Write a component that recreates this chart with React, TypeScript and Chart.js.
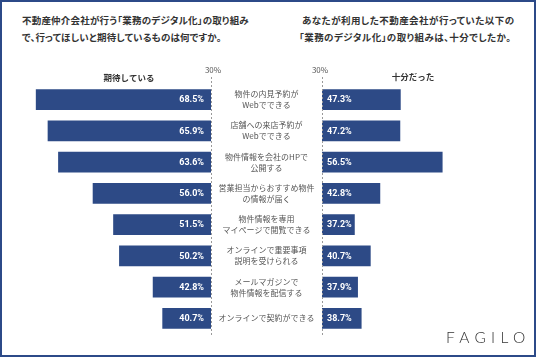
import React, { useEffect, useRef } from "react";
import { Chart, registerables } from "chart.js";

Chart.register(...registerables);

const categories: string[][] = [
  ["物件の内見予約が", "Webでできる"],
  ["店舗への来店予約が", "Webでできる"],
  ["物件情報を会社のHPで", "公開する"],
  ["営業担当からおすすめ物件", "の情報が届く"],
  ["物件情報を専用", "マイページで閲覧できる"],
  ["オンラインで重要事項", "説明を受けられる"],
  ["メールマガジンで", "物件情報を配信する"],
  ["オンラインで契約ができる"],
];
const expectedValues = [68.5, 65.9, 63.6, 56.0, 51.5, 50.2, 42.8, 40.7];
const sufficientValues = [47.3, 47.2, 56.5, 42.8, 37.2, 40.7, 37.9, 38.7];
const leftHeader = "期待している";
const rightHeader = "十分だった";
const axisMin = 30;
const axisMax = 70;
const leftTitle = ["不動産仲介会社が行う「業務のデジタル化」の取り組み", "で、行ってほしいと期待しているものは何ですか。"];
const rightTitle = ["あなたが利用した不動産会社が行っていた以下の", "「業務のデジタル化」の取り組みは、十分でしたか。"];

const BAR = "#2d4a86";
const JP = '"Noto Sans CJK JP", "Noto Sans", sans-serif';
const W = 536;
const H = 357;

function makeChart(canvas: HTMLCanvasElement, side: "left" | "right") {
  const values = side === "left" ? expectedValues : sufficientValues;
  const padding =
    side === "left"
      ? { left: 29, right: W - 211, top: 84, bottom: H - 334 }
      : { left: 322, right: W - 504, top: 84, bottom: H - 334 };

  const overlay = {
    id: "overlay-" + side,
    afterDatasetsDraw(chart: any) {
      const ctx = chart.ctx as CanvasRenderingContext2D;
      const xs = chart.scales.x;
      const ys = chart.scales.y;
      const meta = chart.getDatasetMeta(0);
      const base = xs.getPixelForValue(axisMin);
      ctx.save();
      const lx = Math.round(base) + 0.5;
      ctx.strokeStyle = "#9a9a9a";
      ctx.lineWidth = 1;
      ctx.setLineDash([2, 2]);
      ctx.beginPath();
      ctx.moveTo(lx, 77);
      ctx.lineTo(lx, 337);
      ctx.stroke();
      ctx.setLineDash([]);
      ctx.fillStyle = "#555";
      ctx.font = `8px ${JP}`;
      ctx.textAlign = "center";
      ctx.textBaseline = "middle";
      ctx.fillText(axisMin + "%", base + (side === "left" ? 2 : -2), 70);
      ctx.fillStyle = "#333";
      ctx.font = `bold 8.5px ${JP}`;
      if (side === "left") ctx.fillText(leftHeader, 129, 78);
      else ctx.fillText(rightHeader, 413, 77);
      ctx.fillStyle = "#fff";
      ctx.font = `bold 9px Roboto, sans-serif`;
      meta.data.forEach((bar: any, i: number) => {
        const txt = values[i].toFixed(1) + "%";
        if (side === "left") {
          ctx.textAlign = "right";
          ctx.fillText(txt, base - 7, bar.y + 0.5);
        } else {
          ctx.textAlign = "left";
          ctx.fillText(txt, base + 5, bar.y + 0.5);
        }
      });
      if (side === "left") {
        ctx.fillStyle = "#555";
        ctx.font = `8px ${JP}`;
        ctx.textAlign = "center";
        categories.forEach((lines, i) => {
          const cy = ys.getPixelForValue(i);
          const lh = 11;
          const start = cy - ((lines.length - 1) * lh) / 2;
          lines.forEach((ln, j) => ctx.fillText(ln, 266.5, start + j * lh));
        });
      }
      ctx.restore();
    },
  };

  return new Chart(canvas, {
    type: "bar",
    data: {
      labels: categories.map((c) => c.join("")),
      datasets: [
        {
          data: values,
          backgroundColor: BAR,
          borderWidth: 0,
          barPercentage: 0.67,
          categoryPercentage: 1,
        },
      ],
    },
    options: {
      indexAxis: "y",
      responsive: false,
      animation: false,
      devicePixelRatio: 1,
      layout: { padding },
      scales: {
        x: { type: "linear", min: axisMin, max: axisMax, reverse: side === "left", display: false },
        y: { display: false },
      },
      plugins: { legend: { display: false }, tooltip: { enabled: false } },
    } as any,
    plugins: [overlay],
  });
}

export default function App() {
  const leftRef = useRef<HTMLCanvasElement>(null);
  const rightRef = useRef<HTMLCanvasElement>(null);
  useEffect(() => {
    const a = makeChart(leftRef.current!, "left");
    const b = makeChart(rightRef.current!, "right");
    return () => {
      a.destroy();
      b.destroy();
    };
  }, []);

  const titleStyle: React.CSSProperties = {
    position: "absolute",
    fontFamily: JP,
    fontWeight: 700,
    fontSize: "9.5px",
    color: "#333",
    lineHeight: "17px",
    whiteSpace: "nowrap",
    fontFeatureSettings: '"palt"',
    letterSpacing: "0.2px",
  };

  return (
    <div style={{ position: "fixed", left: 0, top: 0, width: W, height: H, background: "#fff", overflow: "hidden" }}>
      <div style={{ ...titleStyle, left: 22, top: 12 }}>
        {leftTitle.map((t, i) => (
          <div key={i}>{t}</div>
        ))}
      </div>
      <div style={{ ...titleStyle, left: 299, top: 12, letterSpacing: "0.45px" }}>
        {rightTitle.map((t, i) => (
          <div key={i} style={{ paddingLeft: i === 0 ? 3 : 0 }}>{t}</div>
        ))}
      </div>
      <canvas ref={leftRef} width={W} height={H} style={{ position: "absolute", left: 0, top: 0, width: W, height: H }} />
      <canvas ref={rightRef} width={W} height={H} style={{ position: "absolute", left: 0, top: 0, width: W, height: H }} />
      <div
        style={{
          position: "absolute",
          left: 446,
          top: 327,
          fontFamily: "Lato, 'Noto Sans', sans-serif",
          fontWeight: 300,
          fontSize: "15.5px",
          letterSpacing: "5.3px",
          color: "#333",
          lineHeight: "20px",
        }}
      >
        FAGILO
      </div>
      <div
        style={{
          position: "absolute",
          left: 0,
          top: 0,
          width: W,
          height: H,
          boxSizing: "border-box",
          border: "2px solid #2c4a88",
          pointerEvents: "none",
        }}
      />
    </div>
  );
}
